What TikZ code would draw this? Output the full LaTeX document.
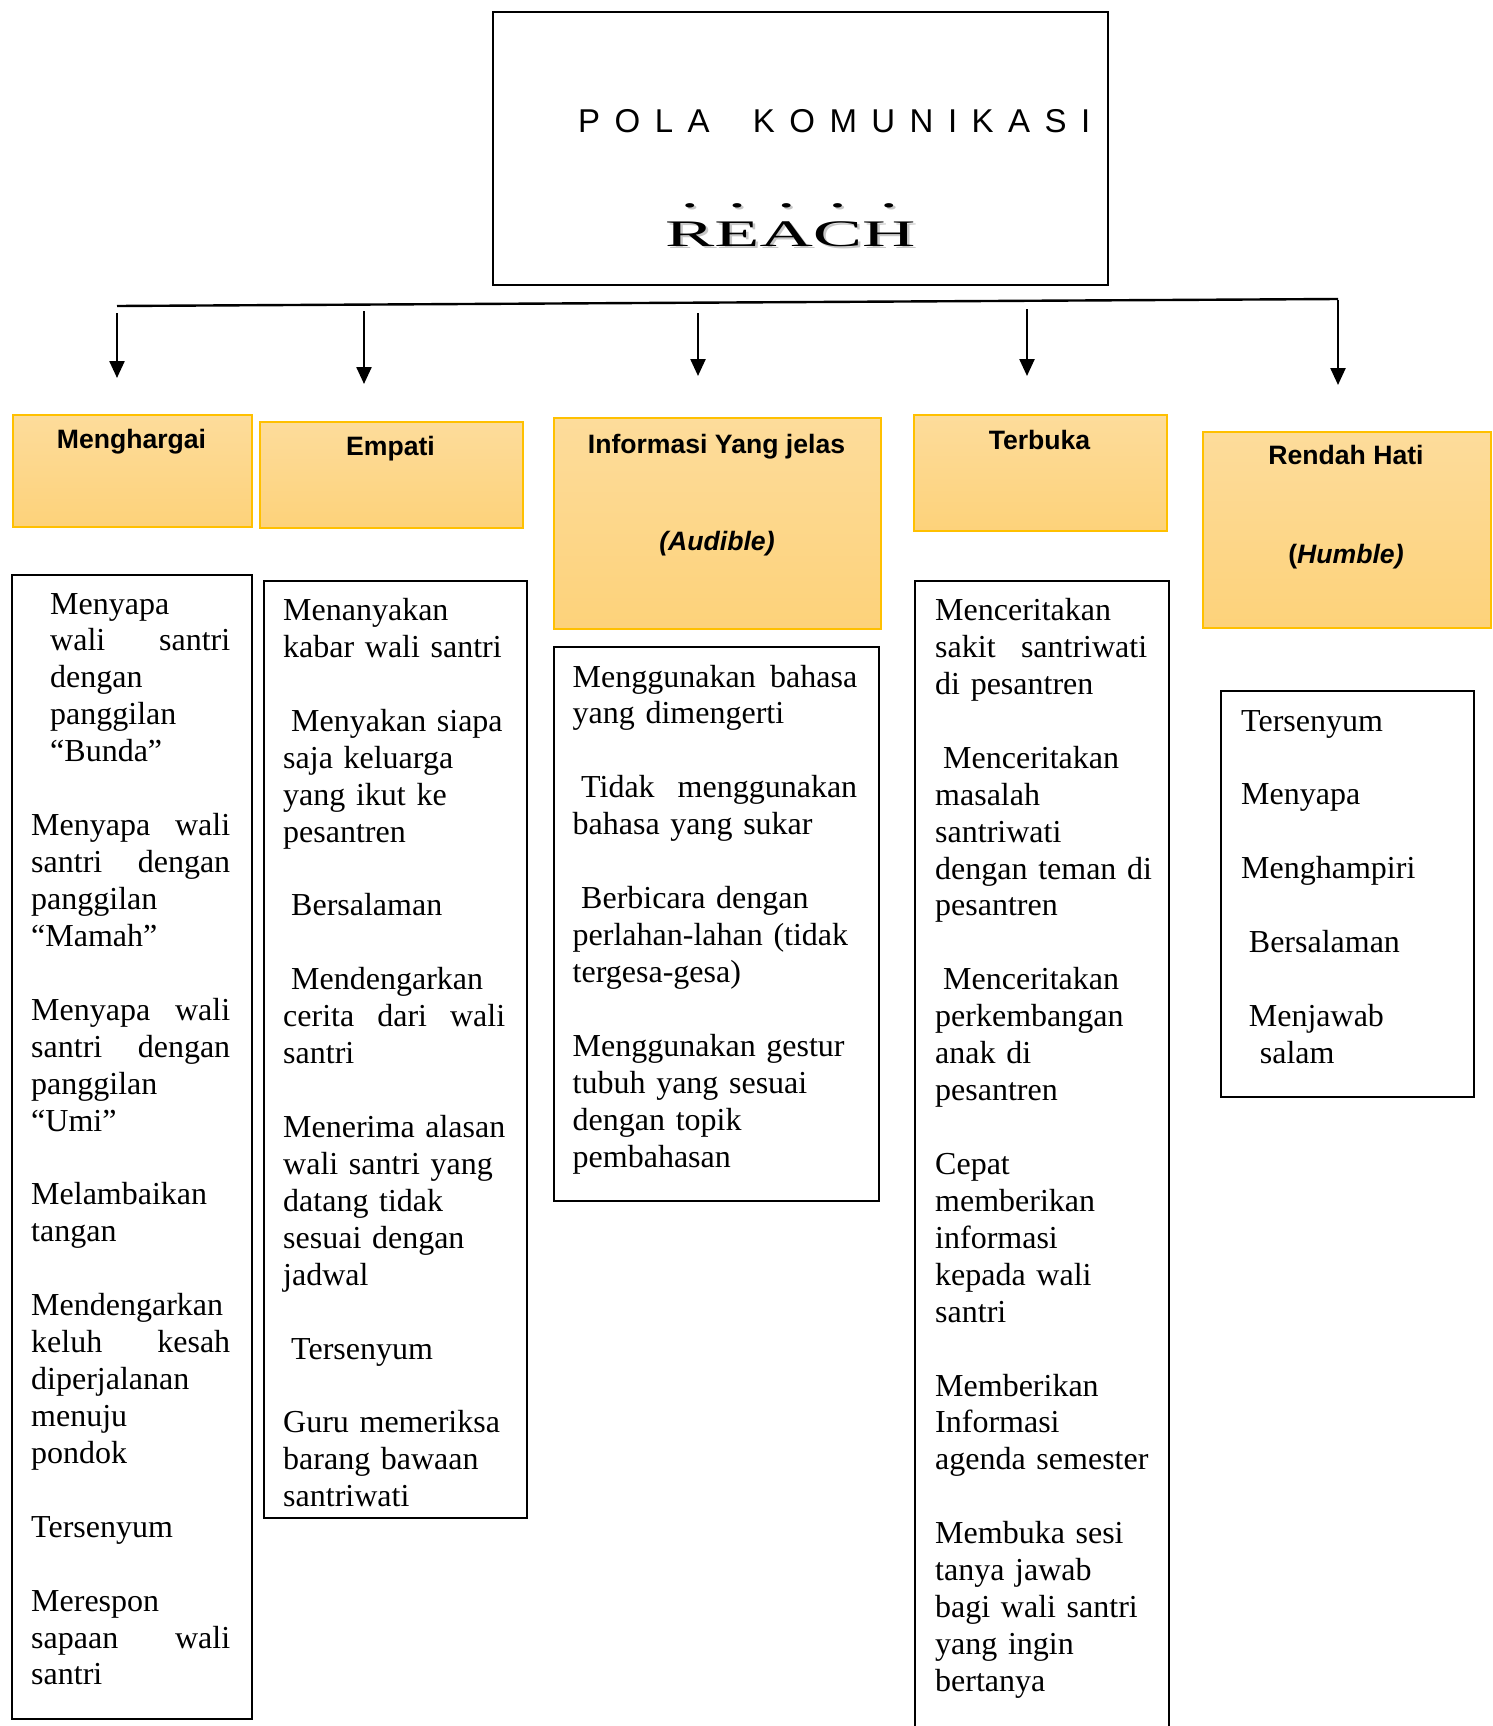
\documentclass[tikz,border=0pt]{standalone}
\usepackage{fontspec}
\setmainfont{Liberation Serif}
\newfontfamily\arialf{Liberation Sans}
\usetikzlibrary{arrows.meta}
\definecolor{otop}{RGB}{253,220,155}
\definecolor{obot}{RGB}{253,210,122}
\definecolor{oline}{RGB}{255,192,0}
\newcommand{\dl}[1]{\ooalign{#1\cr\hidewidth\raisebox{1.02em}{.}\hidewidth\cr}}
\newcommand{\J}[2]{\makebox[#1pt][l]{#2}}
\newcommand{\E}{\mbox{}\\}
\newcommand{\reachword}{\dl{R}\dl{E}\dl{A}\dl{C}\dl{H}}
\tikzset{
  obox/.style={draw=oline, line width=1.8pt, top color=otop, bottom color=obot, inner sep=0pt, anchor=north west},
  lbox/.style={draw=black, line width=2pt, inner sep=0pt, anchor=north west},
  ttl/.style={font=\arialf\bfseries\fontsize{26.6}{30}\selectfont, anchor=base, inner sep=0pt},
  body/.style={font=\fontsize{32}{36.93}\selectfont, align=left, text width=300pt, inner sep=0pt, anchor=base west},
  arr/.style={line width=2.4pt, -{Triangle[length=17pt,width=15pt]}}
}
\begin{document}
\begin{tikzpicture}[x=1pt,y=-1pt]
\useasboundingbox (0,0) rectangle (1492,1726);
\clip (0,0) rectangle (1492,1726);
% title box
\node[lbox, line width=2.4pt, minimum width=615pt, minimum height=273pt] (title) at (492,11) {};
\node[anchor=base west, inner sep=0pt, font=\arialf\fontsize{33}{36}\selectfont] (pola) at (578,132)
  {\makebox[512pt][l]{P\hfill O\hfill L\hfill A\hfill\hfill\hfill K\hfill O\hfill M\hfill U\hfill N\hfill I\hfill K\hfill A\hfill S\hfill I}};
\node[anchor=base west, inner sep=0pt, font=\fontsize{37.5}{40}\selectfont] (reach) at (665,246)
  {\scalebox{1.97}[1]{\rlap{\hspace{1.2pt}\raisebox{-2pt}{\color{black!22}\reachword}}\reachword}};
% branch line
\coordinate (hl) at (117,306);
\coordinate (hr) at (1338,299);
\draw[line width=2.4pt] (hl) -- (hr);
\coordinate (a1s) at (117,313); \coordinate (a1e) at (117,378);
\coordinate (a2s) at (364,311); \coordinate (a2e) at (364,384);
\coordinate (a3s) at (698,313); \coordinate (a3e) at (698,376);
\coordinate (a4s) at (1027,309); \coordinate (a4e) at (1027,376);
\coordinate (a5s) at (1338,300); \coordinate (a5e) at (1338,385);
\draw[arr] (a1s) -- (a1e);
\draw[arr] (a2s) -- (a2e);
\draw[arr] (a3s) -- (a3e);
\draw[arr] (a4s) -- (a4e);
\draw[arr] (a5s) -- (a5e);
% orange boxes
\node[obox, minimum width=239pt, minimum height=112pt] (o1) at (12,414) {};
\node[obox, minimum width=263pt, minimum height=106pt] (o2) at (259,421) {};
\node[obox, minimum width=327pt, minimum height=211pt] (o3) at (553,417) {};
\node[obox, minimum width=253pt, minimum height=116pt] (o4) at (913,414) {};
\node[obox, minimum width=288pt, minimum height=196pt] (o5) at (1202,431) {};
\node[ttl] (t1) at (131.5,448) {Menghargai};
\node[ttl] (t2) at (390.5,455) {Empati};
\node[ttl] (t3) at (716.5,453) {Informasi Yang jelas};
\node[ttl] (t3b) at (717,550) {\itshape (Audible)};
\node[ttl] (t4) at (1039.5,449) {Terbuka};
\node[ttl] (t5) at (1346,464) {Rendah Hati};
\node[ttl] (t5b) at (1346,563) {({\itshape Humble)}};
% list boxes
\node[lbox, minimum width=240pt, minimum height=1144pt] (l1) at (11,574) {};
\node[lbox, minimum width=263pt, minimum height=937pt] (l2) at (263,580) {};
\node[lbox, minimum width=325pt, minimum height=554pt] (l3) at (553,646) {};
\node[lbox, minimum width=254pt, minimum height=1200pt] (l4) at (914,580) {};
\node[lbox, minimum width=253pt, minimum height=406pt] (l5) at (1220,690) {};
% list texts
\node[body] (b1) at (31,614) {%
\hspace*{19pt}Menyapa\\
\hspace*{19pt}\J{180}{wali\hfill santri}\\
\hspace*{19pt}dengan\\
\hspace*{19pt}panggilan\\
\hspace*{19pt}“Bunda”\\
\E
\J{199}{Menyapa\hfill wali}\\
\J{199}{santri\hfill dengan}\\
panggilan\\
“Mamah”\\
\E
\J{199}{Menyapa\hfill wali}\\
\J{199}{santri\hfill dengan}\\
panggilan\\
“Umi”\\
\E
Melambaikan\\
tangan\\
\E
Mendengarkan\\
\J{199}{keluh\hfill kesah}\\
diperjalanan\\
menuju\\
pondok\\
\E
Tersenyum\\
\E
Merespon\\
\J{199}{sapaan\hfill wali}\\
santri};
\node[body] (b2) at (283,620.5) {%
Menanyakan\\
kabar wali santri\\
\E
\hspace*{8pt}Menyakan siapa\\
saja keluarga\\
yang ikut ke\\
pesantren\\
\E
\hspace*{8pt}Bersalaman\\
\E
\hspace*{8pt}Mendengarkan\\
\J{222}{cerita\hfill dari\hfill wali}\\
santri\\
\E
Menerima alasan\\
wali santri yang\\
datang tidak\\
sesuai dengan\\
jadwal\\
\E
\hspace*{8pt}Tersenyum\\
\E
Guru memeriksa\\
barang bawaan\\
santriwati};
\node[body] (b3) at (572.5,687) {%
\J{284.5}{Menggunakan\hfill bahasa}\\
yang dimengerti\\
\E
\hspace*{8.5pt}\J{276}{Tidak\hfill menggunakan}\\
bahasa yang sukar\\
\E
\hspace*{8.5pt}Berbicara dengan\\
perlahan-lahan (tidak\\
tergesa-gesa)\\
\E
Menggunakan gestur\\
tubuh yang sesuai\\
dengan topik\\
pembahasan};
\node[body] (b4) at (935,620.5) {%
Menceritakan\\
\J{212}{sakit\hfill santriwati}\\
di pesantren\\
\E
\hspace*{8pt}Menceritakan\\
masalah\\
santriwati\\
dengan teman di\\
pesantren\\
\E
\hspace*{8pt}Menceritakan\\
perkembangan\\
anak di\\
pesantren\\
\E
Cepat\\
memberikan\\
informasi\\
kepada wali\\
santri\\
\E
Memberikan\\
Informasi\\
agenda semester\\
\E
Membuka sesi\\
tanya jawab\\
bagi wali santri\\
yang ingin\\
bertanya};
\node[body] (b5) at (1241,731) {%
Tersenyum\\
\E
Menyapa\\
\E
Menghampiri\\
\E
\hspace*{7.7pt}Bersalaman\\
\E
\hspace*{7.7pt}Menjawab\\
\hspace*{18.7pt}salam};
\end{tikzpicture}
\end{document}
